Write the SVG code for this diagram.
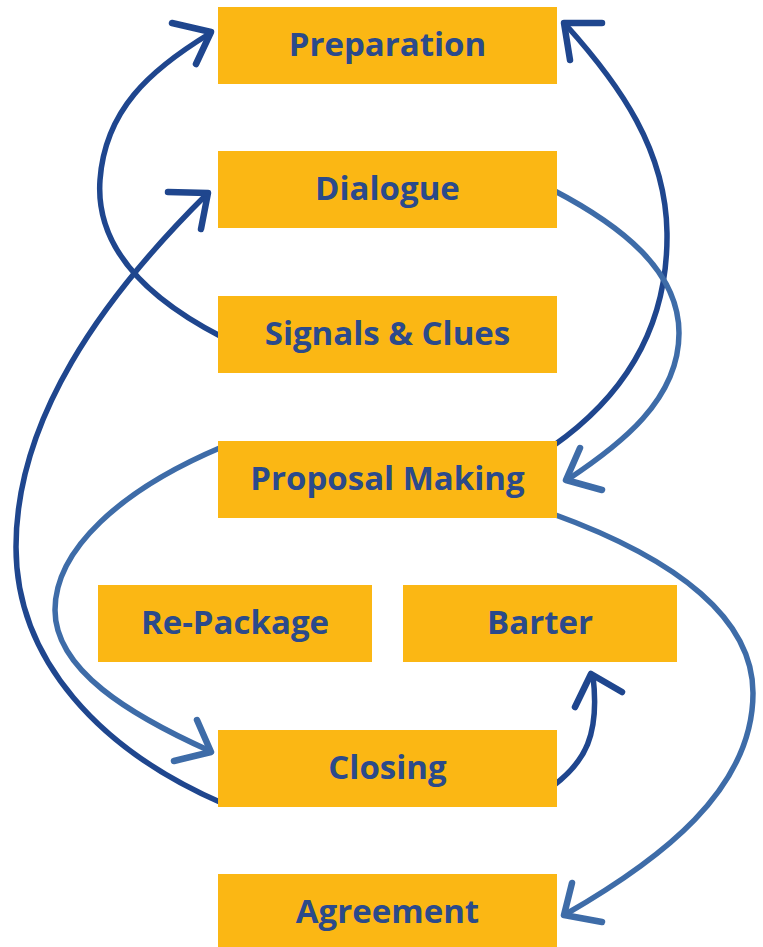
<svg xmlns="http://www.w3.org/2000/svg" width="763" height="947" viewBox="0 0 763 947">
<style>
.box{fill:#FBB714}
.lbl{font-family:"Open Sans","Liberation Sans",sans-serif;font-weight:700;font-size:33px;fill:#2B4A8B;text-anchor:middle}
.c{fill:none;stroke-width:5.5;stroke-linecap:round;stroke-linejoin:round}
.h{fill:none;stroke-width:6.5;stroke-linecap:round;stroke-linejoin:round}
.dk{stroke:#1F468E}
.lt{stroke:#3E6CA8}
</style>
<rect width="763" height="947" fill="#FFFFFF"/>
<g id="connectors">
<path class="c dk" d="M222,337 C150,300 95,250 100,180 C105,110 150,70 209,34"/>
<path class="h dk" d="M172,23 L211,32 L196,64"/>
<path class="c dk" d="M222,803 C100,750 16,660 16,547 C16,420 100,300 207,194"/>
<path class="h dk" d="M168,192 L208,193 L201,229"/>
<path class="c dk" d="M553,446 C630,392 668,320 667,233 C666,150 620,85 566,25"/>
<path class="h dk" d="M602,23 L564,23 L570,60"/>
<path class="c lt" d="M553,190 C620,225 679,270 679,333 C679,400 620,445 567,480"/>
<path class="h lt" d="M580,448 L566,480 L602,490"/>
<path class="c lt" d="M222,447 C120,490 55,550 55,610 C55,670 130,715 210,751"/>
<path class="h lt" d="M197,720 L211,752 L174,761"/>
<path class="c lt" d="M553,514 C680,560 753,620 753,693 C753,790 660,860 566,914"/>
<path class="h lt" d="M572,883 L564,915 L602,922"/>
<path class="c dk" d="M553,786 C585,762 600,735 593,676"/>
<path class="h dk" d="M575,707 L591,674 L622,692"/>
</g>
<g id="preparation"><rect class="box" x="218" y="7" width="339" height="77"/><text class="lbl" x="387.5" y="56">Preparation</text></g>
<g id="dialogue"><rect class="box" x="218" y="151" width="339" height="77"/><text class="lbl" x="387.5" y="200">Dialogue</text></g>
<g id="signals"><rect class="box" x="218" y="296" width="339" height="77"/><text class="lbl" x="387.5" y="345">Signals &amp; Clues</text></g>
<g id="proposal"><rect class="box" x="218" y="441" width="339" height="77"/><text class="lbl" x="387.5" y="490">Proposal Making</text></g>
<g id="repackage"><rect class="box" x="98" y="585" width="274" height="77"/><text class="lbl" x="235" y="634">Re-Package</text></g>
<g id="barter"><rect class="box" x="403" y="585" width="274" height="77"/><text class="lbl" x="540" y="634">Barter</text></g>
<g id="closing"><rect class="box" x="218" y="730" width="339" height="77"/><text class="lbl" x="387.5" y="779">Closing</text></g>
<g id="agreement"><rect class="box" x="218" y="874" width="339" height="77"/><text class="lbl" x="387.5" y="923">Agreement</text></g>
</svg>
